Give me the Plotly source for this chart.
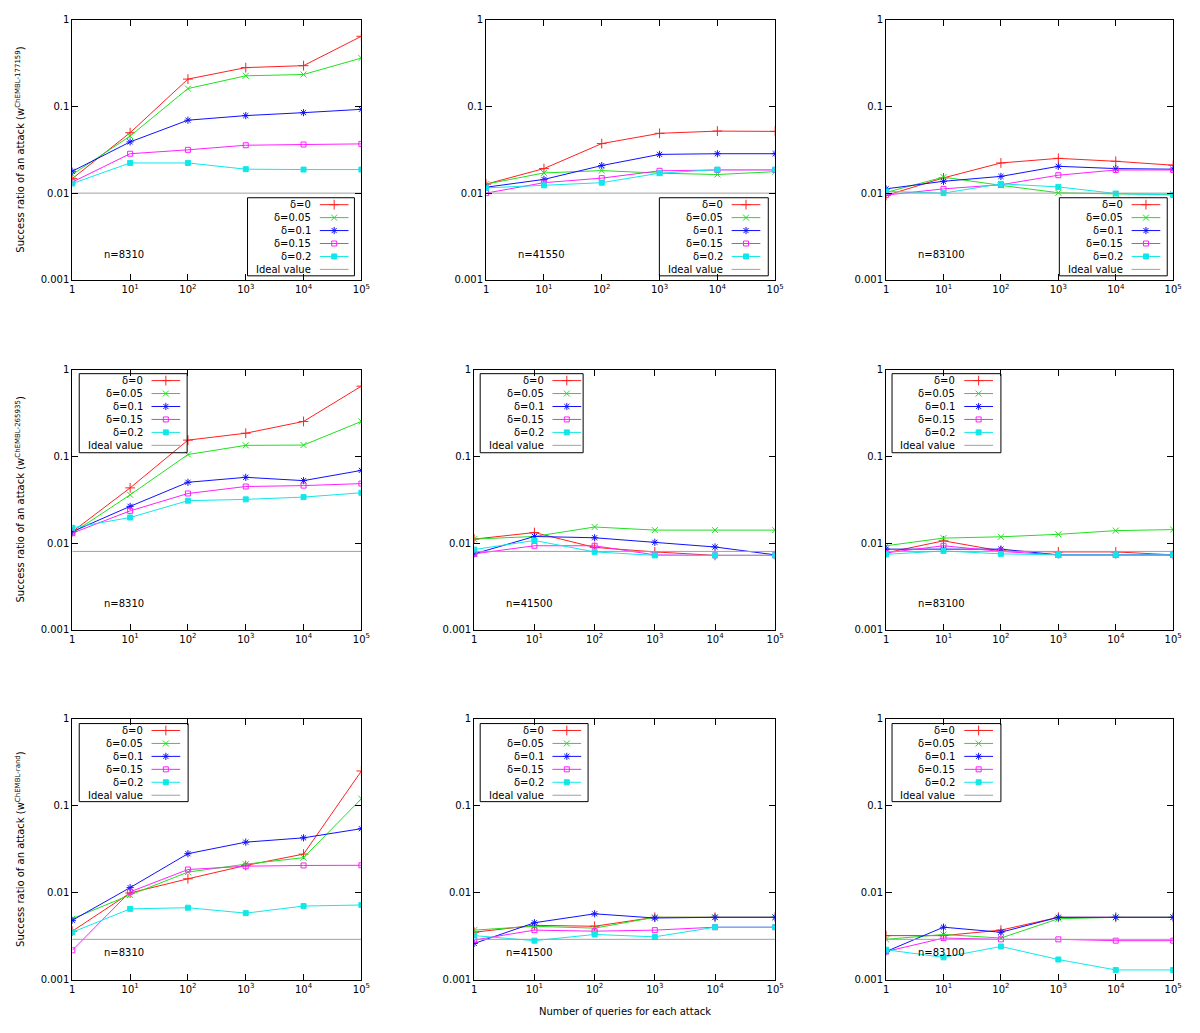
import plotly.graph_objects as go

W, H = 1200, 1033

# ---------------- data ----------------
queries = [1, 10, 100, 1000, 10000, 100000]
x_tick_text = ["1", "10<sup>1</sup>", "10<sup>2</sup>", "10<sup>3</sup>", "10<sup>4</sup>", "10<sup>5</sup>"]
y_tick_vals = [0.001, 0.01, 0.1, 1]
y_tick_text = ["0.001", "0.01", "0.1", "1"]
deltas = ["δ=0", "δ=0.05", "δ=0.1", "δ=0.15", "δ=0.2"]
ideal_label = "Ideal value"

# each panel: series for δ=0, 0.05, 0.1, 0.15, 0.2
r1c1 = [
    [0.0147, 0.0498, 0.207, 0.281, 0.296, 0.646],
    [0.0164, 0.0456, 0.161, 0.226, 0.234, 0.362],
    [0.0179, 0.039, 0.0695, 0.0785, 0.0849, 0.0927],
    [0.0134, 0.0285, 0.0316, 0.0357, 0.0364, 0.037],
    [0.0129, 0.0223, 0.0223, 0.0189, 0.0187, 0.0187],
]
r1c2 = [
    [0.0127, 0.0192, 0.0373, 0.049, 0.052, 0.0516],
    [0.0127, 0.0171, 0.0182, 0.0170, 0.0164, 0.0177],
    [0.0117, 0.0144, 0.0208, 0.028, 0.0285, 0.0285],
    [0.0100, 0.0132, 0.0149, 0.0181, 0.0185, 0.0185],
    [0.0115, 0.0123, 0.0132, 0.0170, 0.0187, 0.0187],
]
r1c3 = [
    [0.0094, 0.0150, 0.0223, 0.0252, 0.0233, 0.0210],
    [0.0102, 0.0153, 0.0123, 0.0101, 0.0098, 0.0097],
    [0.0112, 0.0137, 0.0156, 0.0204, 0.0192, 0.0189],
    [0.0095, 0.0112, 0.0125, 0.0161, 0.0185, 0.0185],
    [0.0105, 0.0100, 0.0128, 0.0118, 0.0099, 0.0095],
]
r2c1 = [
    [0.0135, 0.0433, 0.154, 0.185, 0.253, 0.646],
    [0.0130, 0.036, 0.105, 0.134, 0.135, 0.253],
    [0.0135, 0.0265, 0.0502, 0.0573, 0.0525, 0.0689],
    [0.0130, 0.0235, 0.0373, 0.0449, 0.046, 0.0485],
    [0.0150, 0.0197, 0.0308, 0.0319, 0.0339, 0.038],
]
r2c2 = [
    [0.0111, 0.0132, 0.0089, 0.0079, 0.0072, 0.0072],
    [0.0111, 0.0119, 0.0153, 0.0141, 0.0141, 0.0141],
    [0.0075, 0.0119, 0.0115, 0.0102, 0.0090, 0.0073],
    [0.0075, 0.0093, 0.0093, 0.0073, 0.0072, 0.0072],
    [0.0084, 0.0107, 0.0079, 0.0072, 0.0072, 0.0072],
]
r2c3 = [
    [0.0077, 0.0106, 0.0081, 0.0079, 0.0079, 0.0073],
    [0.0093, 0.0114, 0.0118, 0.0126, 0.0139, 0.0143],
    [0.0085, 0.0085, 0.0085, 0.0073, 0.0073, 0.0073],
    [0.0077, 0.0093, 0.0080, 0.0073, 0.0073, 0.0073],
    [0.0074, 0.0081, 0.0075, 0.0073, 0.0073, 0.0073],
]
r3c1 = [
    [0.0036, 0.0099, 0.0144, 0.0205, 0.0277, 0.25],
    [0.0050, 0.0094, 0.0172, 0.0212, 0.0252, 0.12],
    [0.0048, 0.0114, 0.028, 0.038, 0.0426, 0.0543],
    [0.00217, 0.0102, 0.0184, 0.0201, 0.0205, 0.0206],
    [0.0035, 0.0065, 0.0067, 0.0058, 0.0070, 0.0072],
]
r3c2 = [
    [0.0035, 0.0042, 0.0041, 0.0052, 0.0052, 0.0052],
    [0.0037, 0.0041, 0.0039, 0.0052, 0.0052, 0.0052],
    [0.0026, 0.0045, 0.0057, 0.0051, 0.0052, 0.0052],
    [0.00285, 0.0037, 0.0036, 0.0037, 0.0040, 0.0040],
    [0.0032, 0.0028, 0.0033, 0.0031, 0.0040, 0.0040],
]
r3c3 = [
    [0.0032, 0.0032, 0.0037, 0.0052, 0.0052, 0.0052],
    [0.0029, 0.0033, 0.0030, 0.0050, 0.0052, 0.0052],
    [0.0021, 0.0040, 0.0035, 0.0052, 0.0052, 0.0052],
    [0.0021, 0.0030, 0.0029, 0.0029, 0.0028, 0.0028],
    [0.0022, 0.0018, 0.0024, 0.0017, 0.00129, 0.00129],
]
panels = [r1c1, r1c2, r1c3, r2c1, r2c2, r2c3, r3c1, r3c2, r3c3]
ideal_values = [0.01, 0.008, 0.0029]          # per row
n_labels = ["n=8310", "n=41550", "n=83100",
            "n=8310", "n=41500", "n=83100",
            "n=8310", "n=41500", "n=83100"]
row_titles = [
    "Success ratio of an attack (w<sup>ChEMBL-177159</sup>)",
    "Success ratio of an attack (w<sup>ChEMBL-265935</sup>)",
    "Success ratio of an attack (w<sup>ChEMBL-rand</sup>)",
]
x_title = "Number of queries for each attack"

# ---------------- style / layout ----------------
colors = ["#ff2020", "#20e020", "#1010ff", "#ff20ff", "#10e8e8"]
ideal_color = "#a0a0a0"
symbols = ["cross-thin", "x-thin", "asterisk", "square-open", "square"]
sizes = [7, 6, 6, 5, 5]
FONT = "DejaVu Sans"
FS = 10

row_px = [(14, 277), (368, 631), (721, 985)]
col_px = [
    [(70, 362), (488, 780), (892, 1182)],
    [(70, 362), (476, 780), (892, 1182)],
    [(70, 362), (476, 780), (892, 1182)],
]
legend_boxes = [  # (left, top, right, bottom) px
    (247, 194, 355, 273), (663, 194, 773, 273), (1067, 194, 1176, 273),
    (77, 372, 186, 452), (482, 372, 586, 452), (898, 372, 1008, 452),
    (77, 726, 187, 805), (482, 726, 591, 805), (898, 726, 1008, 805),
]
n_pos = [(100, 251), (518, 251), (922, 251),
         (100, 605), (506, 605), (922, 605),
         (100, 958), (506, 958), (922, 958)]


def px(x):
    return x / W


def py(y):
    return 1 - y / H


fig = go.Figure()
layout = dict(
    width=W, height=H, margin=dict(l=0, r=0, t=0, b=0),
    paper_bgcolor="white", plot_bgcolor="rgba(0,0,0,0)",
    showlegend=False, font=dict(family=FONT, size=FS, color="black"),
)
annotations = []
shapes = []

minor_vals = [m * 10 ** e for e in (-3, -2, -1) for m in range(2, 10)]
log_y_range = [-3, 0]
log_x_range = [0, 5]

for i, data in enumerate(panels):
    r, c = divmod(i, 3)
    k = "" if i == 0 else str(i + 1)
    km = str(i + 11)  # minor-tick overlay y axis
    (x0, x1) = col_px[r][c]
    (y0, y1) = row_px[r]
    layout["xaxis" + k] = dict(
        domain=[px(x0), px(x1)], anchor="y" + k, type="log", range=log_x_range,
        tickmode="array", tickvals=queries, ticktext=x_tick_text,
        ticks="inside", ticklen=6,
        tickcolor="black", showline=True, linecolor="black", linewidth=1,
        mirror="ticks", showgrid=False, zeroline=False,
        tickfont=dict(family=FONT, size=FS, color="black"),
    )
    layout["yaxis" + k] = dict(
        domain=[py(y1), py(y0)], anchor="x" + k, type="log", range=log_y_range,
        tickmode="array", tickvals=y_tick_vals, ticktext=y_tick_text,
        ticks="inside", ticklen=6,
        tickcolor="black", showline=True, linecolor="black", linewidth=1,
        mirror="ticks", showgrid=False, zeroline=False,
        tickfont=dict(family=FONT, size=FS, color="black"),
    )
    layout["yaxis" + km] = dict(
        overlaying="y" + k, anchor="x" + k, side="left", type="log",
        range=log_y_range, tickmode="array", tickvals=minor_vals,
        showticklabels=False, ticks="inside", ticklen=3, tickcolor="black",
        showline=False, mirror="ticks", showgrid=False, zeroline=False,
    )
    for s, series in enumerate(data):
        fig.add_trace(go.Scatter(
            x=queries, y=series, mode="lines+markers", name=deltas[s],
            xaxis="x" + k, yaxis="y" + k,
            line=dict(color=colors[s], width=1),
            marker=dict(symbol=symbols[s], size=sizes[s], color=colors[s],
                        line=dict(color=colors[s], width=1)),
        ))
    fig.add_trace(go.Scatter(
        x=[queries[0], queries[-1]], y=[ideal_values[r]] * 2, mode="lines",
        name=ideal_label, xaxis="x" + k, yaxis="y" + k,
        line=dict(color=ideal_color, width=1),
    ))
    # n label
    nx, ny = n_pos[i]
    annotations.append(dict(
        text=n_labels[i], x=px(nx), y=py(ny), xref="paper", yref="paper",
        xanchor="left", yanchor="middle", showarrow=False,
        font=dict(family=FONT, size=FS, color="black"),
    ))
    # legend box
    bl, bt, br, bb = legend_boxes[i]
    shapes.append(dict(type="rect", xref="paper", yref="paper",
                       x0=px(bl), x1=px(br), y0=py(bb), y1=py(bt),
                       line=dict(color="black", width=1), layer="above"))
    labels = deltas + [ideal_label]
    for j, lab in enumerate(labels):
        ly = bt + 7 + j * 13.1
        annotations.append(dict(
            text=lab, x=px(bl + 66), y=py(ly), xref="paper", yref="paper",
            xanchor="right", yanchor="middle", showarrow=False,
            font=dict(family=FONT, size=FS, color="black"),
        ))
        col = colors[j] if j < 5 else ideal_color
        fig.add_trace(go.Scatter(
            x=[bl + 73, bl + 102], y=[ly, ly], mode="lines",
            xaxis="x10", yaxis="y10", hoverinfo="skip",
            line=dict(color=col, width=1),
        ))
        if j < 5:
            fig.add_trace(go.Scatter(
                x=[bl + 87.5], y=[ly], mode="markers",
                xaxis="x10", yaxis="y10", hoverinfo="skip",
                marker=dict(symbol=symbols[j], size=sizes[j], color=col,
                            line=dict(color=col, width=1)),
            ))

# overlay axis in pixel units for legend decorations
layout["xaxis10"] = dict(domain=[0, 1], range=[0, W], anchor="y10", visible=False,
                         fixedrange=True)
layout["yaxis10"] = dict(domain=[0, 1], range=[H, 0], anchor="x10", visible=False,
                         fixedrange=True)

for r in range(3):
    y0, y1 = row_px[r]
    annotations.append(dict(
        text=row_titles[r], x=px(17), y=py((y0 + y1) / 2), xref="paper", yref="paper",
        xanchor="center", yanchor="middle", textangle=-90, showarrow=False,
        font=dict(family=FONT, size=FS, color="black"),
    ))
annotations.append(dict(
    text=x_title, x=px(628), y=py(1017), xref="paper", yref="paper",
    xanchor="center", yanchor="middle", showarrow=False,
    font=dict(family=FONT, size=FS, color="black"),
))

layout["annotations"] = annotations
layout["shapes"] = shapes
fig.update_layout(**layout)

reset_css = (
    "var s=document.createElement('style');"
    "s.textContent='html,body{margin:0;padding:0;overflow:hidden;"
    "width:1200px;height:1033px;}';"
    "document.head.appendChild(s);"
)
fig.write_html(
    "out.html",
    config={"displayModeBar": False, "responsive": False},
    post_script=reset_css,
)
